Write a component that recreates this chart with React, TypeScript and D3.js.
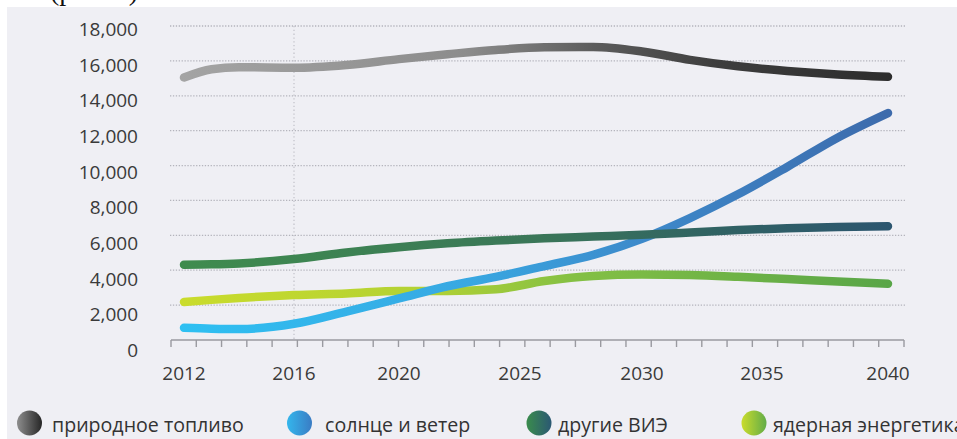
import React from "react";
import * as d3 from "d3";

const years = [2012, 2013, 2014, 2016, 2018, 2020, 2022, 2024, 2026, 2028, 2030, 2032, 2034, 2036, 2038, 2040];
const fossil = [15050, 15520, 15640, 15610, 15770, 16100, 16380, 16630, 16780, 16800, 16540, 16060, 15690, 15420, 15220, 15090];
const solarWind = [700, 650, 630, 930, 1630, 2380, 3080, 3620, 4240, 4880, 5800, 6990, 8350, 9920, 11600, 13010];
const otherRes = [4320, 4340, 4390, 4640, 5020, 5320, 5540, 5700, 5830, 5930, 6030, 6160, 6300, 6410, 6480, 6520];
const nuclear = [2180, 2300, 2410, 2580, 2670, 2810, 2810, 2910, 3380, 3670, 3750, 3720, 3620, 3490, 3350, 3220];

const xLabelYears = [2012, 2016, 2020, 2025, 2030, 2035, 2040];
const yTicks = [0, 2000, 4000, 6000, 8000, 10000, 12000, 14000, 16000, 18000];
const markerYear = 2016;

const seriesNames = ["природное топливо", "солнце и ветер", "другие ВИЭ", "ядерная энергетика"];
const caption = "(рис. 1)";

const W = 957;
const H = 439;

export default function App() {
  const x = d3.scaleLinear().domain(xLabelYears).range([184, 294, 399, 520, 642, 762, 888]);
  const y = d3.scaleLinear().domain([0, 18000]).range([340, 26]);
  const yLabel = d3.scaleLinear().domain([0, 18000]).range([350, 29]);
  const tickScale = d3.scaleLinear().domain([years[0] - 0.5, years[years.length - 1] + 0.5]).range([171, 904]);
  const tickYears = d3.range(years[0] - 0.5, years[years.length - 1] + 1, 1);

  const line = d3
    .line<number>()
    .x((_, i) => x(years[i]))
    .y((d) => y(d))
    .curve(d3.curveMonotoneX);

  const fontUI = "'Open Sans', 'Noto Sans', sans-serif";

  const series = [
    { key: "nuclear", data: nuclear, grad: "gNuc" },
    { key: "solar", data: solarWind, grad: "gSol" },
    { key: "other", data: otherRes, grad: "gOth" },
    { key: "fossil", data: fossil, grad: "gFos" },
  ];

  const legend = [
    { name: seriesNames[0], cx: 29.5, tx: 52, grad: "lFos" },
    { name: seriesNames[1], cx: 299.5, tx: 325, grad: "lSol" },
    { name: seriesNames[2], cx: 539, tx: 558, grad: "lOth" },
    { name: seriesNames[3], cx: 754, tx: 773, grad: "lNuc" },
  ];

  return (
    <svg
      width={W}
      height={H}
      style={{ position: "absolute", left: 0, top: 0, display: "block" }}
    >
      <defs>
        <linearGradient id="gFos" gradientUnits="userSpaceOnUse" x1={180} x2={895} y1={0} y2={0}>
          <stop offset="0" stopColor="#a4a4a4" />
          <stop offset="0.4" stopColor="#8c8c8c" />
          <stop offset="0.58" stopColor="#5c5c5c" />
          <stop offset="0.75" stopColor="#3e3e3e" />
          <stop offset="1" stopColor="#2c2c2c" />
        </linearGradient>
        <linearGradient id="gSol" gradientUnits="userSpaceOnUse" x1={180} x2={895} y1={0} y2={0}>
          <stop offset="0" stopColor="#2ec0f2" />
          <stop offset="0.4" stopColor="#38a8e2" />
          <stop offset="0.65" stopColor="#3d89ca" />
          <stop offset="1" stopColor="#3d6aab" />
        </linearGradient>
        <linearGradient id="gOth" gradientUnits="userSpaceOnUse" x1={180} x2={900} y1={0} y2={0}>
          <stop offset="0" stopColor="#3f8c4e" />
          <stop offset="0.5" stopColor="#3a7658" />
          <stop offset="0.75" stopColor="#306263" />
          <stop offset="1" stopColor="#2c5570" />
        </linearGradient>
        <linearGradient id="gNuc" gradientUnits="userSpaceOnUse" x1={180} x2={895} y1={0} y2={0}>
          <stop offset="0" stopColor="#cadc2c" />
          <stop offset="0.35" stopColor="#b2d134" />
          <stop offset="0.55" stopColor="#84c044" />
          <stop offset="1" stopColor="#58a548" />
        </linearGradient>
        <linearGradient id="lFos" x1="0" x2="1" y1="0" y2="0">
          <stop offset="0" stopColor="#8e8e8e" />
          <stop offset="1" stopColor="#262626" />
        </linearGradient>
        <linearGradient id="lSol" x1="0" x2="1" y1="0" y2="0">
          <stop offset="0" stopColor="#34b6ec" />
          <stop offset="1" stopColor="#3a7cc4" />
        </linearGradient>
        <linearGradient id="lOth" x1="0" x2="1" y1="0" y2="0">
          <stop offset="0" stopColor="#3a8c4c" />
          <stop offset="1" stopColor="#2b5873" />
        </linearGradient>
        <linearGradient id="lNuc" x1="0" x2="1" y1="0" y2="0">
          <stop offset="0" stopColor="#cadc2c" />
          <stop offset="1" stopColor="#62ac48" />
        </linearGradient>
      </defs>

      <rect x={0} y={0} width={W} height={H} fill="#ffffff" />
      <text x={50} y={0} fontFamily="'Liberation Serif', serif" fontSize={28} fill="#111">
        {caption}
      </text>
      <rect x={7} y={7} width={W - 7} height={H - 7} fill="#efeff4" />

      {/* gridlines */}
      {yTicks
        .filter((t) => t > 0)
        .map((t) => (
          <line
            key={t}
            x1={170}
            x2={905}
            y1={y(t)}
            y2={y(t)}
            stroke="#b4b4bc"
            strokeWidth={1.3}
            strokeDasharray="1.3 1.6"
          />
        ))}

      {/* marker vertical dotted line */}
      <line
        x1={x(markerYear)}
        x2={x(markerYear)}
        y1={y(18000)}
        y2={y(0)}
        stroke="#c0c0c8"
        strokeWidth={1.2}
        strokeDasharray="1.3 2.5"
      />

      {/* y labels */}
      {yTicks.map((t) => (
        <text
          key={t}
          x={138}
          y={yLabel(t)}
          textAnchor="end"
          dominantBaseline="central"
          fontFamily={fontUI}
          fontSize={19}
          fill="#3a3a3a"
        >
          {d3.format(",")(t)}
        </text>
      ))}

      {/* x axis */}
      <line x1={171} x2={904} y1={y(0)} y2={y(0)} stroke="#9a9aa0" strokeWidth={1.6} />
      {tickYears.map((t) => (
        <line
          key={t}
          x1={tickScale(t)}
          x2={tickScale(t)}
          y1={y(0)}
          y2={y(0) + 7}
          stroke="#9a9aa0"
          strokeWidth={1.4}
        />
      ))}
      {xLabelYears.map((yr) => (
        <text
          key={yr}
          x={x(yr)}
          y={380}
          textAnchor="middle"
          fontFamily={fontUI}
          fontSize={19}
          fill="#3a3a3a"
        >
          {yr}
        </text>
      ))}

      {/* lines */}
      {series.map((s) => (
        <path
          key={s.key}
          d={line(s.data) || ""}
          fill="none"
          stroke={`url(#${s.grad})`}
          strokeWidth={8.5}
          strokeLinecap="round"
          strokeLinejoin="round"
        />
      ))}

      {/* legend */}
      {legend.map((l) => (
        <g key={l.name}>
          <circle cx={l.cx} cy={423} r={12.5} fill={`url(#${l.grad})`} />
          <text
            x={l.tx}
            y={424}
            dominantBaseline="central"
            fontFamily={fontUI}
            fontSize={19.6}
            fill="#333"
          >
            {l.name}
          </text>
        </g>
      ))}
    </svg>
  );
}
